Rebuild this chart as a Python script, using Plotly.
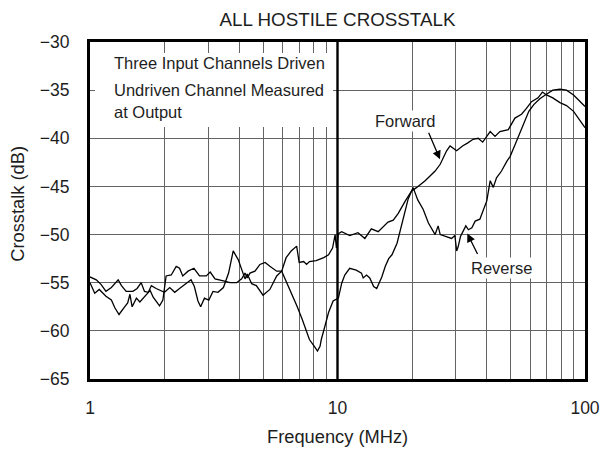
import plotly.graph_objects as go

# Forward crosstalk
forward_freq = [1.0, 1.06, 1.11, 1.16, 1.22, 1.30, 1.34, 1.40, 1.49, 1.55, 1.61, 1.66, 1.72, 1.77, 1.85,
                1.92, 2.0, 2.1, 2.2, 2.3, 2.41, 2.56, 2.64, 2.73, 2.8, 2.9, 3.02, 3.14, 3.29, 3.46,
                3.63, 3.79, 3.97, 4.1, 4.23, 4.32, 4.4, 4.5, 4.7, 5.0, 5.33, 5.68, 5.95, 6.2, 6.5,
                6.84, 7.0, 7.3, 7.5, 7.7, 8.2, 8.8, 9.2, 9.55, 9.78, 9.9, 10.08, 10.4, 11.2, 12.1,
                12.9, 13.7, 14.6, 15.3, 16.0, 16.8, 17.6, 18.8, 19.9, 20.9, 22.6, 24.8, 26.0, 27.6, 28.5,
                30.3, 32.0, 33.5, 35.3, 37.0, 38.6, 41.4, 43.3, 45.3, 49.0, 52.1, 55.4, 58.0, 60.8, 64.6,
                67.3, 69.9, 74.1, 79.2, 84.2, 89.9, 95.5, 100]
forward_db = [-54.4, -54.7, -55.2, -55.9, -55.5, -54.7, -55.3, -55.9, -55.9, -55.6, -55.0, -55.9, -56.0, -55.3, -55.6,
              -55.8, -56.0, -55.5, -56.0, -55.6, -55.2, -54.7, -55.4, -56.9, -57.5, -56.6, -56.8, -55.9, -56.0, -55.5,
              -54.0, -51.7, -52.6, -53.6, -54.6, -54.1, -54.6, -55.1, -55.3, -56.3, -55.7, -54.3, -53.8, -52.4, -51.7,
              -51.2, -52.9, -52.8, -53.1, -52.8, -52.7, -52.4, -52.1, -51.4, -50.0, -51.4, -49.9, -49.7, -50.1, -49.8,
              -50.4, -49.4, -49.7, -49.2, -48.7, -48.5, -47.8, -46.5, -45.5, -45.1, -44.4, -43.4, -42.7, -41.3, -40.8,
              -41.3, -40.8, -40.5, -40.1, -40.0, -40.4, -39.3, -39.8, -39.3, -39.1, -37.9, -37.5, -36.9, -36.2, -35.8,
              -35.2, -35.5, -35.8, -36.3, -36.6, -37.2, -38.1, -38.9]

# Reverse crosstalk
reverse_freq = [1.0, 1.045, 1.09, 1.16, 1.22, 1.26, 1.31, 1.34, 1.38, 1.42, 1.45, 1.48, 1.54, 1.59, 1.64,
                1.69, 1.75, 1.80, 1.86, 1.91, 1.97, 2.03, 2.13, 2.23, 2.3, 2.37, 2.49, 2.63, 2.77, 2.95,
                3.06, 3.2, 3.46, 3.68, 3.91, 4.1, 4.23, 4.32, 4.43, 4.64, 4.86, 5.1, 5.33, 5.68, 5.95,
                6.4, 6.85, 7.2, 7.5, 7.7, 8.1, 8.3, 8.5, 8.6, 8.9, 9.2, 9.6, 10.08, 10.4, 10.7,
                11.2, 11.9, 12.5, 12.7, 13.1, 13.5, 14.0, 14.4, 15.1, 15.6, 16.1, 16.6, 17.4, 17.9, 18.5,
                19.3, 20.2, 21.1, 22.2, 23.3, 24.8, 25.5, 26.0, 27.6, 28.9, 29.8, 30.3, 30.7, 31.4, 33.0,
                33.8, 34.9, 36.0, 37.6, 39.0, 40.1, 41.4, 42.6, 43.9, 46.0, 48.3, 49.8, 52.1, 53.8, 56.5,
                59.3, 62.1, 65.7, 69.1, 74.1, 79.2, 84.2, 89.9, 95.5, 100]
reverse_db = [-55.0, -56.1, -55.7, -56.4, -56.8, -57.6, -58.3, -58.0, -57.5, -57.1, -56.2, -57.5, -56.6, -57.0, -56.6,
              -56.3, -55.8, -56.5, -57.0, -57.4, -56.8, -54.3, -54.2, -53.3, -53.5, -54.3, -53.8, -53.5, -54.3, -54.3,
              -53.9, -54.6, -54.8, -55.0, -55.0, -54.6, -54.0, -54.5, -54.0, -53.8, -53.1, -52.9, -53.3, -53.8, -53.8,
              -55.6, -57.4, -58.8, -60.2, -60.9, -61.7, -62.1, -61.6, -60.9, -59.5, -58.1, -56.9, -56.6, -55.05, -54.2,
              -53.5, -53.7, -54.0, -54.5, -54.2, -54.5, -55.4, -55.6, -54.4, -53.3, -52.5, -52.1, -50.9, -49.6, -48.0,
              -46.3, -45.1, -46.4, -47.4, -48.8, -50.0, -49.1, -50.0, -50.2, -50.4, -50.1, -51.7, -51.3, -50.2, -49.1,
              -49.5, -49.3, -48.6, -48.4, -47.2, -46.5, -44.4, -45.1, -44.1, -43.4, -42.4, -41.9, -40.7, -39.8, -38.6,
              -37.2, -36.5, -35.9, -35.5, -35.0, -34.9, -35.0, -35.5, -36.2, -36.7]

x_grid = [1, 2, 3, 4, 5, 6, 7, 8, 9, 10, 20, 30, 40, 50, 60, 70, 80, 90, 100]
x_labels = ["1", "", "", "", "", "", "", "", "", "10", "", "", "", "", "", "", "", "", "100"]
y_ticks = [-65, -60, -55, -50, -45, -40, -35, -30]

FONT = "Liberation Sans, Arial, sans-serif"
TXT = "#1e1e1e"
GRID = "#646464"

fig = go.Figure()
for fx, fy in [(forward_freq, forward_db), (reverse_freq, reverse_db)]:
    fig.add_trace(go.Scatter(x=fx, y=fy, mode="lines",
                             line=dict(color="black", width=1.3), showlegend=False))

# thick decade line at 10 MHz
fig.add_shape(type="line", xref="paper", yref="paper", x0=0.5, x1=0.5, y0=0, y1=1,
              line=dict(color="black", width=2.4), layer="above")
# white box behind the note text
fig.add_shape(type="rect", xref="paper", yref="paper", x0=0.010, x1=0.491, y0=0.748, y1=0.967,
              fillcolor="white", line=dict(width=0), layer="above")

note = ["Three Input Channels Driven", "Undriven Channel Measured", "at Output"]
for txt, yy in zip(note, [0.937, 0.858, 0.793]):
    fig.add_annotation(text=txt, xref="paper", yref="paper", x=0.044, y=yy,
                       xanchor="left", yanchor="middle", showarrow=False,
                       font=dict(size=16.5, color=TXT, family=FONT))

# curve labels and arrows
fig.add_annotation(text="Forward", xref="paper", yref="paper", x=0.6364, y=0.7656,
                   xanchor="center", yanchor="middle", showarrow=False, bgcolor="white",
                   font=dict(size=16.5, color=TXT, family=FONT))
fig.add_annotation(text="", xref="paper", yref="paper", x=0.7071, y=0.652, ax=-12, ay=-28,
                   showarrow=True, arrowhead=2, arrowsize=1.3, arrowwidth=1.3, arrowcolor="black")
fig.add_annotation(text="Reverse", xref="paper", yref="paper", x=0.8317, y=0.3285,
                   xanchor="center", yanchor="middle", showarrow=False, bgcolor="white",
                   font=dict(size=16.5, color=TXT, family=FONT))
fig.add_annotation(text="", xref="paper", yref="paper", x=0.7622, y=0.4318, ax=11, ay=22,
                   showarrow=True, arrowhead=2, arrowsize=1.3, arrowwidth=1.3, arrowcolor="black")

# axis titles
fig.add_annotation(text="Frequency (MHz)", xref="paper", yref="paper", x=0.5, y=-0.172,
                   xanchor="center", yanchor="middle", showarrow=False,
                   font=dict(size=18.3, color=TXT, family=FONT))
fig.add_annotation(text="Crosstalk (dB)", xref="paper", yref="paper", x=-0.1455, y=0.52,
                   xanchor="center", yanchor="middle", textangle=-90, showarrow=False,
                   font=dict(size=18.3, color=TXT, family=FONT))

fig.update_layout(
    width=601, height=451,
    margin=dict(l=90, r=16, t=42, b=72, autoexpand=False),
    paper_bgcolor="white", plot_bgcolor="white",
    font=dict(family=FONT, color=TXT, size=17.5),
    title=dict(text="ALL HOSTILE CROSSTALK", xref="paper", x=0.5, xanchor="center",
               yref="container", y=0.958, yanchor="middle",
               font=dict(size=18.8, color=TXT, family=FONT)),
)
fig.update_xaxes(type="log", range=[0, 2], tickvals=x_grid, ticktext=x_labels,
                 showgrid=True, gridcolor=GRID, gridwidth=1.3, ticks="", automargin=False,
                 ticklabelstandoff=11, showline=True, mirror=True, linecolor="black", linewidth=3,
                 zeroline=False)
fig.update_yaxes(range=[-65, -30], tickvals=y_ticks, showgrid=True, gridcolor=GRID, gridwidth=1.3,
                 ticks="", ticklabelstandoff=14, automargin=False, showline=True, mirror=True,
                 linecolor="black", linewidth=3, zeroline=False)

# the page's default body margin would shift the figure off the 601x451 window
fig.write_html("out.html", config={"displayModeBar": False},
               post_script="document.body.style.margin='0px';")
